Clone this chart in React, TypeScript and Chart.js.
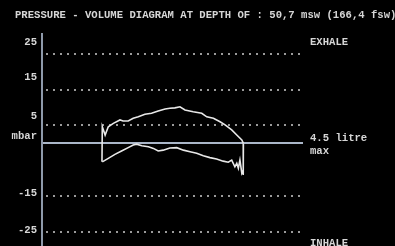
import React, { useEffect, useRef } from "react";
import { Chart, registerables } from "chart.js";

Chart.register(...registerables);

const titleText = "PRESSURE - VOLUME DIAGRAM AT DEPTH OF : 50,7 msw (166,4 fsw)";
const unitLabel = "mbar";
const gridValues = [25, 15, 5, -15, -25];
const tickLabels = ["25", "15", "5", "-15", "-25"];
const sideLabels = ["EXHALE", "4.5 litre", "max", "INHALE"];
const sideLabelValues = [28.4, 1.3, -2.2, -28.2];

// exhale branch (upper), volume in litre, pressure in mbar
const exhaleVolume = [0.0, 0.01, 0.1, 0.2, 0.36, 0.57, 0.67, 0.83, 0.99, 1.15, 1.36, 1.57, 1.78, 2.0, 2.15, 2.31, 2.47, 2.63, 2.89, 3.16, 3.32, 3.53, 3.74, 3.9, 4.11, 4.27, 4.43, 4.48];
const exhalePressure = [-5.3, 4.6, 2.25, 4.6, 5.55, 6.5, 6.2, 6.2, 6.96, 7.4, 8.1, 8.4, 9.0, 9.6, 9.8, 9.9, 10.2, 9.3, 8.8, 8.4, 7.4, 7.0, 6.0, 5.1, 3.7, 2.25, 0.85, -0.1];

// inhale branch (lower)
const inhaleVolume = [4.48, 4.47, 4.48, 4.43, 4.37, 4.32, 4.27, 4.21, 4.11, 4.0, 3.84, 3.63, 3.42, 3.21, 3.0, 2.79, 2.58, 2.37, 2.15, 1.94, 1.78, 1.63, 1.47, 1.26, 1.1, 0.99, 0.83, 0.62, 0.41, 0.2, 0.01];
const inhalePressure = [-0.1, -9.0, -7.6, -8.5, -4.8, -7.1, -5.7, -6.7, -4.8, -5.4, -5.1, -4.5, -4.1, -3.6, -2.9, -2.45, -2.0, -1.3, -1.4, -2.0, -2.25, -1.5, -1.05, -0.75, -0.3, -0.55, -1.3, -2.25, -3.2, -4.3, -5.3];

const toPoints = (xs: number[], ys: number[]) => xs.map((x, i) => ({ x, y: ys[i] }));

const FONT = "bold 10.6px 'Liberation Mono', 'DejaVu Sans Mono', monospace";
const tickOffsets = [-12, -12, -9, -3, -1];

const framePlugin = {
  id: "frame",
  beforeDatasetsDraw(chart: any) {
    const { ctx, chartArea, scales } = chart;
    const y = scales.y;
    ctx.save();
    // dotted grid
    ctx.strokeStyle = "#9a9a9a";
    ctx.lineWidth = 2;
    ctx.setLineDash([2, 5]);
    gridValues.forEach((v) => {
      const py = Math.round(y.getPixelForValue(v));
      ctx.beginPath();
      ctx.moveTo(chartArea.left + 4, py);
      ctx.lineTo(chartArea.right, py);
      ctx.stroke();
    });
    ctx.setLineDash([]);
    // zero line
    const zy = Math.round(y.getPixelForValue(0));
    ctx.strokeStyle = "#aab6c8";
    ctx.lineWidth = 2;
    ctx.beginPath();
    ctx.moveTo(chartArea.left, zy);
    ctx.lineTo(chartArea.right - 1, zy);
    ctx.stroke();
    // axis line
    ctx.strokeStyle = "#8e99aa";
    ctx.beginPath();
    ctx.moveTo(chartArea.left, chartArea.top);
    ctx.lineTo(chartArea.left, chartArea.bottom);
    ctx.stroke();
    ctx.restore();
  },
  afterDraw(chart: any) {
    const { ctx, chartArea, scales } = chart;
    const y = scales.y;
    ctx.save();
    ctx.font = FONT;
    ctx.fillStyle = "#d6d6d6";
    ctx.textBaseline = "middle";
    ctx.textAlign = "left";
    ctx.fillText(titleText, 15, chartArea.top - 18);
    ctx.textAlign = "right";
    gridValues.forEach((v, i) => {
      ctx.fillText(tickLabels[i], chartArea.left - 5, y.getPixelForValue(v) + tickOffsets[i]);
    });
    ctx.fillText(unitLabel, chartArea.left - 5, y.getPixelForValue(0) - 7);
    ctx.textAlign = "left";
    sideLabels.forEach((t, i) => {
      ctx.fillText(t, chartArea.right + 6, y.getPixelForValue(sideLabelValues[i]));
    });
    ctx.restore();
  },
};

export default function App() {
  const ref = useRef<HTMLCanvasElement | null>(null);
  useEffect(() => {
    document.body.style.margin = "0";
    document.body.style.background = "#000";
    if (!ref.current) return;
    const lineStyle = {
      borderColor: "#e8e8e8",
      borderWidth: 1.6,
      pointRadius: 0,
      showLine: true,
      fill: false,
      tension: 0,
    };
    const chart = new Chart(ref.current, {
      type: "scatter",
      data: {
        datasets: [
          { label: "exhale", data: toPoints(exhaleVolume, exhalePressure), ...lineStyle },
          { label: "inhale", data: toPoints(inhaleVolume, inhalePressure), ...lineStyle },
        ],
      },
      options: {
        animation: false,
        responsive: true,
        maintainAspectRatio: false,
        layout: { padding: { left: 42, right: 91, top: 33, bottom: 0 } },
        plugins: { legend: { display: false }, tooltip: { enabled: false } },
        scales: {
          x: { type: "linear", min: -1.9, max: 6.4, display: false },
          y: { type: "linear", min: -29, max: 31, display: false },
        },
      },
      plugins: [framePlugin],
    });
    return () => chart.destroy();
  }, []);
  return (
    <div style={{ position: "absolute", left: 0, top: 0, width: 395, height: 246, background: "#000" }}>
      <canvas ref={ref} />
    </div>
  );
}
